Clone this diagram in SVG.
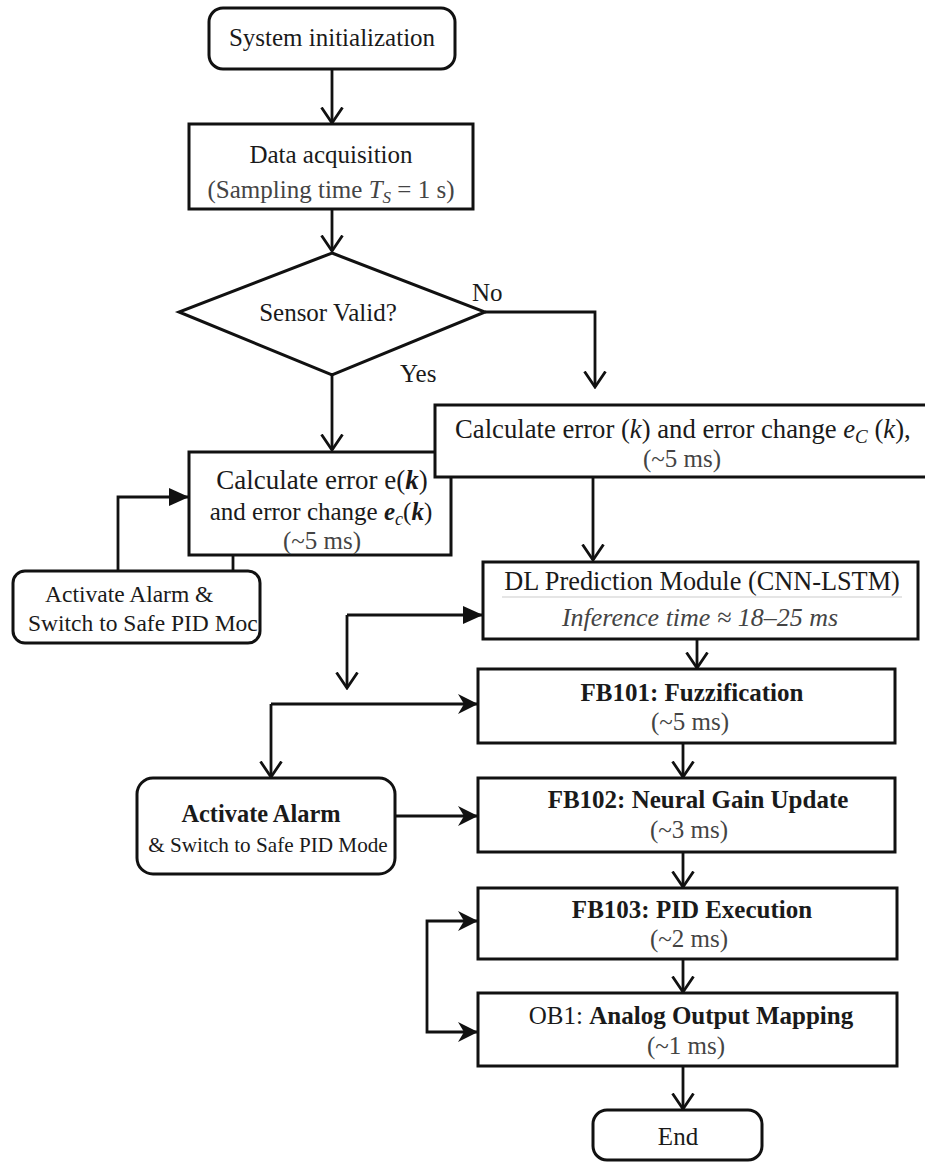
<svg xmlns="http://www.w3.org/2000/svg" width="925" height="1162" viewBox="0 0 925 1162">
<style>
.box{fill:#fff;stroke:#111;stroke-width:3}
.ln{fill:none;stroke:#111;stroke-width:2.8}
text{font-family:"Liberation Serif","DejaVu Serif",serif;fill:#1a1a1a;font-size:25px}
.c{text-anchor:middle}
.b{font-weight:bold}
.t{fill:#444}
.i{font-style:italic}
.bi{font-style:italic;font-weight:bold}
.o{marker-end:url(#open)}
.f{marker-end:url(#fill)}
.w{marker-end:url(#barb)}
</style>
<defs>
<marker id="open" markerUnits="userSpaceOnUse" viewBox="0 0 18 24" refX="16.5" refY="12" markerWidth="18" markerHeight="24" orient="auto">
<path d="M1,1.5 L16.5,12 L1,22.5" fill="none" stroke="#111" stroke-width="2.8"/>
</marker>
<marker id="fill" markerUnits="userSpaceOnUse" viewBox="0 0 20 18" refX="19" refY="9" markerWidth="20" markerHeight="18" orient="auto">
<path d="M0,0 L20,9 L0,18 z" fill="#111"/>
</marker>
<marker id="barb" markerUnits="userSpaceOnUse" viewBox="0 0 20 20" refX="19" refY="10" markerWidth="20" markerHeight="20" orient="auto-start-reverse">
<path d="M0,0 L20,10 L0,20 L6,10 z" fill="#111"/>
</marker>
</defs>

<g id="connectors">
<path class="ln o" d="M332,69 V123"/>
<path class="ln o" d="M332,209 V251"/>
<path class="ln o" d="M485,312 H595 V387"/>
<path class="ln o" d="M332,375 V450"/>
<path class="ln o" d="M593,477 V560"/>
<path class="ln f" d="M118,571 V497 H188"/>
<path class="ln" d="M233,555 V571"/>
<path class="ln f" d="M347,615 H482"/>
<path class="ln o" d="M347,615 V688"/>
<path class="ln o" d="M697,639 V668"/>
<path class="ln w" d="M271,704 H477"/>
<path class="ln o" d="M271,704 V777"/>
<path class="ln w" d="M395,816 H477"/>
<path class="ln o" d="M683,743 V777"/>
<path class="ln o" d="M683,852 V887"/>
<path class="ln o" d="M683,959 V992"/>
<path class="ln w" d="M477,921 H427 V1032 H477" style="marker-start:url(#barb)"/>
<path class="ln o" d="M683,1066 V1109"/>
</g>

<g id="start">
<rect class="box" x="209" y="8" width="246" height="61" rx="14"/>
<text class="c" x="332" y="46">System initialization</text>
</g>

<g id="acquisition">
<rect class="box" x="189" y="124" width="284" height="85"/>
<text class="c" x="331" y="163">Data acquisition</text>
<text class="c t" x="331" y="198">(Sampling time <tspan class="i">T</tspan><tspan class="i" font-size="17" dy="5">S</tspan><tspan dy="-5"> = 1 s)</tspan></text>
</g>

<g id="sensor-valid">
<polygon class="box" points="332,253 485,312 332,375 179,312"/>
<text class="c" x="328" y="321">Sensor Valid?</text>
<text x="472" y="301">No</text>
<text x="400" y="382">Yes</text>
</g>

<g id="calc-left">
<rect class="box" x="189" y="452" width="262" height="103"/>
<text class="c" x="322" y="489" style="font-size:27px">Calculate error e(<tspan class="bi">k</tspan>)</text>
<text class="c" x="321" y="520">and error change <tspan class="bi">e</tspan><tspan class="i" font-size="18" dy="5">c</tspan><tspan dy="-5">(</tspan><tspan class="bi">k</tspan>)</text>
<text class="c t" x="322" y="549">(~5 ms)</text>
</g>

<g id="calc-right">
<rect class="box" x="435" y="405" width="520" height="72"/>
<text x="455" y="438" style="font-size:26.7px">Calculate error (<tspan class="i">k</tspan>) and error change <tspan class="i">e</tspan><tspan class="i" font-size="19" dy="5">C</tspan><tspan dy="-5"> (</tspan><tspan class="i">k</tspan>),</text>
<text class="c t" x="682" y="467">(~5 ms)</text>
</g>

<g id="alarm-small">
<rect class="box" x="13" y="571" width="247" height="72" rx="12"/>
<text x="45" y="602" style="font-size:23.5px">Activate Alarm &amp;</text>
<text x="28" y="631" style="font-size:23.5px">Switch to Safe PID Moc</text>
</g>

<g id="dl-module">
<rect class="box" x="483" y="562" width="435" height="77"/>
<text class="c" x="702" y="590" style="font-size:26.3px">DL Prediction Module (CNN-LSTM)</text>
<line x1="502" y1="597" x2="902" y2="597" stroke="#ddd" stroke-width="1.5"/>
<text class="c i t" x="700" y="626" style="font-size:26px">Inference time ≈ 18–25 ms</text>
</g>

<g id="fb101">
<rect class="box" x="478" y="669" width="417" height="74"/>
<text class="c b" x="692" y="701">FB101: Fuzzification</text>
<text class="c t" x="690" y="730">(~5 ms)</text>
</g>

<g id="alarm">
<rect class="box" x="137" y="778" width="258" height="96" rx="16"/>
<text class="c b" x="261" y="822" style="font-size:24.4px">Activate Alarm</text>
<text class="c" x="268" y="852" style="font-size:21.2px">&amp; Switch to Safe PID Mode</text>
</g>

<g id="fb102">
<rect class="box" x="478" y="778" width="417" height="74"/>
<text class="c b" x="698" y="808">FB102: Neural Gain Update</text>
<text class="c t" x="689" y="838">(~3 ms)</text>
</g>

<g id="fb103">
<rect class="box" x="478" y="888" width="419" height="71"/>
<text class="c b" x="692" y="918">FB103: PID Execution</text>
<text class="c t" x="689" y="947">(~2 ms)</text>
</g>

<g id="ob1">
<rect class="box" x="478" y="993" width="419" height="73"/>
<text class="c" x="691" y="1024">OB1: <tspan class="b">Analog Output Mapping</tspan></text>
<text class="c t" x="686" y="1054">(~1 ms)</text>
</g>

<g id="end">
<rect class="box" x="593" y="1110" width="169" height="50" rx="14"/>
<text class="c" x="678" y="1145">End</text>
</g>
</svg>
